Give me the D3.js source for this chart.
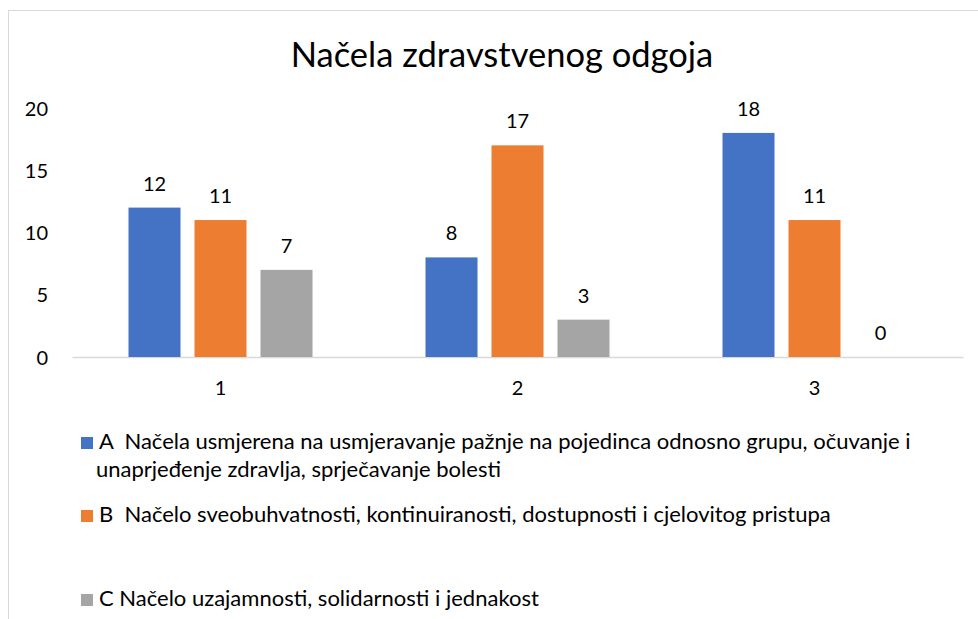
<!DOCTYPE html>
<html>
<head>
<meta charset="utf-8">
<script src="https://cdn.jsdelivr.net/npm/d3@7"></script>
<style>
  body { margin: 0; background: #fff; }
  text { font-family: Lato, "Open Sans", sans-serif; fill: #000; }
  .legend text { white-space: pre; }
</style>
</head>
<body>
<div id="chart"></div>
<script>
// data
const categories = ['1', '2', '3'];
const seriesKeys = ['A', 'B', 'C'];
const seriesA = [12, 8, 18];
const seriesB = [11, 17, 11];
const seriesC = [7, 3, 0];
const yTicks = [0, 5, 10, 15, 20];
const legendLines = [
  ['A  Načela usmjerena na usmjeravanje pažnje na pojedinca odnosno grupu, očuvanje i',
   'unaprjeđenje zdravlja, sprječavanje bolesti'],
  ['B  Načelo sveobuhvatnosti, kontinuiranosti, dostupnosti i cjelovitog pristupa'],
  ['C Načelo uzajamnosti, solidarnosti i jednakost'],
];
const colors = ['#4472C4', '#ED7D31', '#A5A5A5'];

const W = 978, H = 619;
const margin = { left: 72, right: 15, top: 108, bottom: 262 };

const svg = d3.select('#chart').append('svg')
  .attr('width', W)
  .attr('height', H);

/* chart frame (cut off on right and bottom in the reference) */
svg.append('rect')
  .attr('x', 8.5).attr('y', 10.5)
  .attr('width', W + 20).attr('height', H + 20)
  .attr('fill', '#fff')
  .attr('stroke', '#d9d9d9');

/* title */
svg.append('text')
  .attr('x', 502).attr('y', 67)
  .attr('text-anchor', 'middle')
  .style('font-size', '34.5px')
  .text('Načela zdravstvenog odgoja');

/* scales */
const x0 = d3.scaleBand()
  .domain(categories)
  .range([margin.left, W - margin.right]);
const groupW = 184;
const x1 = d3.scaleBand()
  .domain(seriesKeys)
  .range([(x0.bandwidth() - groupW) / 2, (x0.bandwidth() + groupW) / 2])
  .paddingInner(0.212);
const y = d3.scaleLinear()
  .domain([0, 20])
  .range([H - margin.bottom, margin.top]);

/* axes */
const yAxis = d3.axisLeft(y).tickValues(yTicks).tickSize(0).tickPadding(0);
const yAxisG = svg.append('g')
  .attr('transform', 'translate(48,0)')
  .call(yAxis);
yAxisG.select('.domain').remove();
yAxisG.selectAll('text')
  .style('font-family', 'Lato, sans-serif')
  .style('font-size', '20px')
  .attr('fill', '#000')
  .attr('dy', '0.36em');

const xAxis = d3.axisBottom(x0).tickSize(0).tickPadding(0);
const xAxisG = svg.append('g')
  .attr('transform', `translate(0,${y(0)})`)
  .call(xAxis);
xAxisG.select('.domain').attr('stroke', '#d9d9d9').attr('stroke-width', 1.3);
xAxisG.selectAll('text')
  .style('font-family', 'Lato, sans-serif')
  .style('font-size', '20px')
  .attr('fill', '#000')
  .attr('y', 38)
  .attr('dy', 0);

/* bars */
const rows = categories.map((c, i) => ({
  cat: c,
  vals: [seriesA[i], seriesB[i], seriesC[i]].map((v, j) => ({ key: seriesKeys[j], v, color: colors[j] })),
}));

const groups = svg.append('g').selectAll('g')
  .data(rows)
  .join('g')
  .attr('transform', (d) => `translate(${x0(d.cat)},0)`);

groups.selectAll('rect')
  .data((d) => d.vals)
  .join('rect')
  .attr('x', (d) => x1(d.key))
  .attr('y', (d) => y(d.v))
  .attr('width', x1.bandwidth())
  .attr('height', (d) => y(0) - y(d.v))
  .attr('fill', (d) => d.color);

groups.selectAll('.label')
  .data((d) => d.vals)
  .join('text')
  .attr('class', 'label')
  .attr('x', (d) => x1(d.key) + x1.bandwidth() / 2)
  .attr('y', (d) => y(d.v) - 17)
  .attr('text-anchor', 'middle')
  .style('font-size', '20px')
  .text((d) => d.v);

/* legend */
const legendY = [449, 522, 606];
const legend = svg.append('g').attr('class', 'legend');
legendLines.forEach((lines, i) => {
  legend.append('rect')
    .attr('x', 81).attr('y', legendY[i] - 12)
    .attr('width', 12).attr('height', 12)
    .attr('fill', colors[i]);
  const t = legend.append('text')
    .attr('x', 99).attr('y', legendY[i])
    .style('font-size', '22px');
  lines.forEach((line, k) => {
    t.append('tspan')
      .attr('x', k === 0 ? 99 : 96)
      .attr('dy', k === 0 ? 0 : 28)
      .text(line);
  });
});
</script>
</body>
</html>
